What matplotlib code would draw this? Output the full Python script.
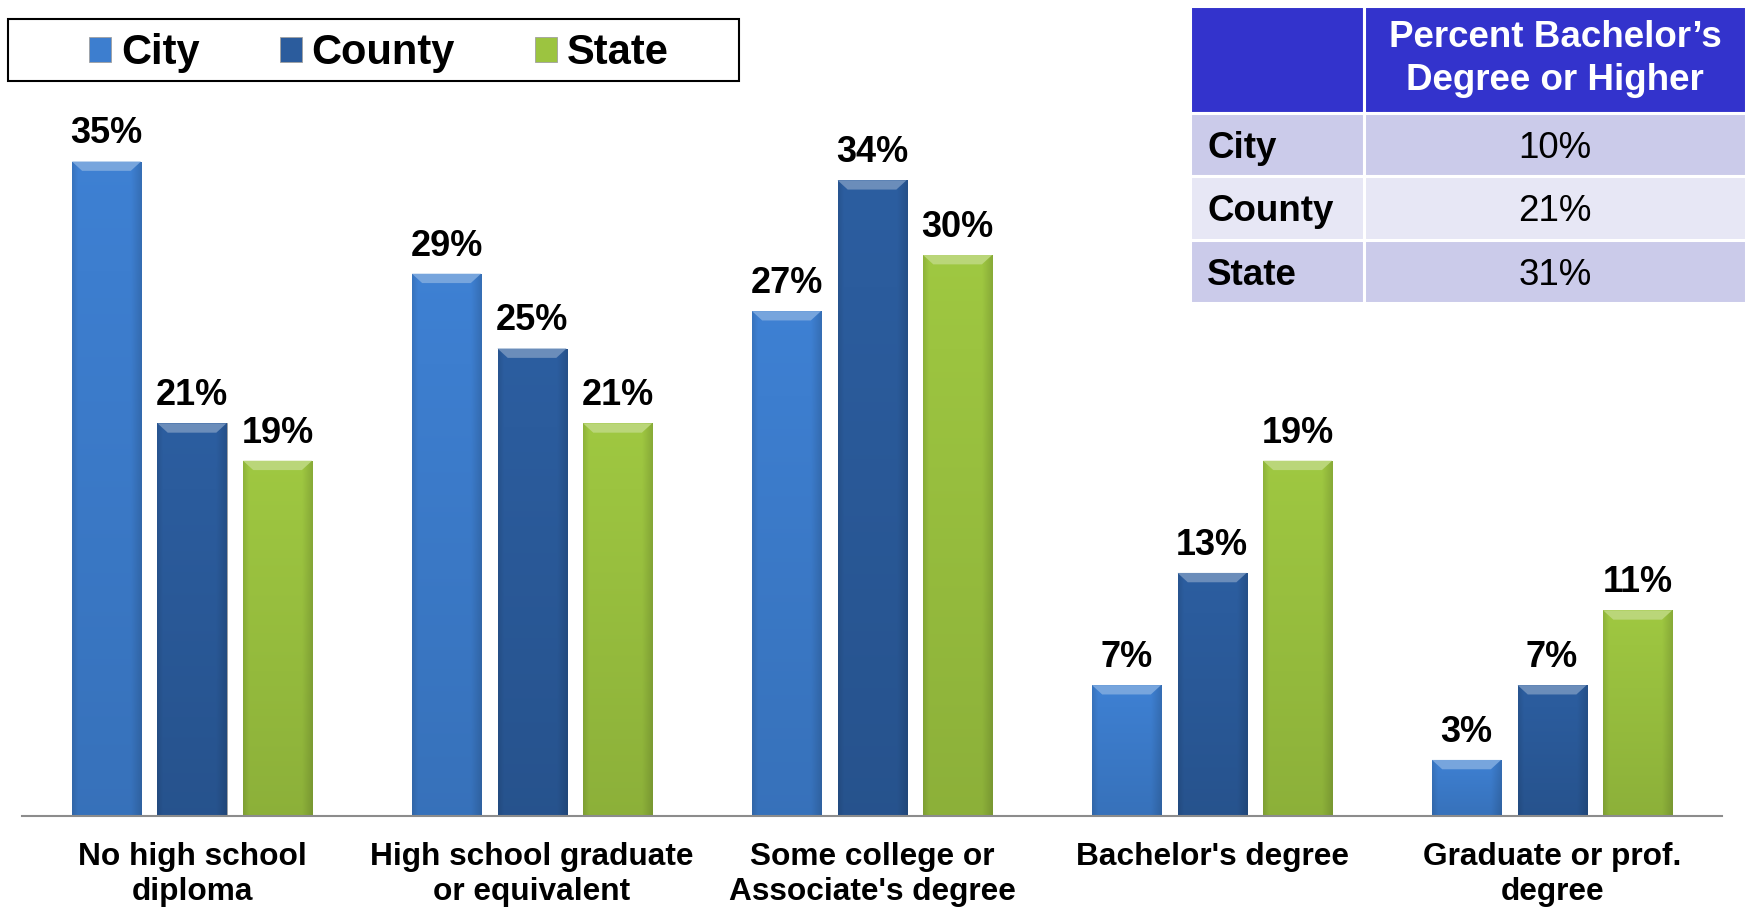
import matplotlib
matplotlib.use("Agg")
import matplotlib.pyplot as plt
import numpy as np
from matplotlib.colors import to_rgb
from matplotlib.patches import Rectangle, Polygon

plt.rcParams['font.family'] = ['Liberation Sans', 'DejaVu Sans']

# education levels and shares (%) for each area
categories = ["No high school\ndiploma", "High school graduate\nor equivalent",
              "Some college or\nAssociate's degree", "Bachelor's degree",
              "Graduate or prof.\ndegree"]
series_names = ["City", "County", "State"]
city = [35, 29, 27, 7, 3]
county = [21, 25, 34, 13, 7]
state = [19, 21, 30, 19, 11]
series_colors = ["#3d7ecf", "#2b5c9d", "#9cc440"]

# summary table
table_rows = ["City", "County", "State"]
table_header = "Percent Bachelor\u2019s\nDegree or Higher"
bachelor_plus = [10, 21, 31]


def shade_bar(ax, rect, color):
    # vertical/horizontal gradient plus a light bevel on top
    x, y = rect.get_xy()
    w, h = rect.get_width(), rect.get_height()
    base = np.array(to_rgb(color))
    xs = np.linspace(0, 1, 60)
    ys = np.linspace(0, 1, 200)
    horiz = 1 - 0.14 * np.clip((xs - 0.85) / 0.15, 0, 1) - 0.10 * np.clip((0.08 - xs) / 0.08, 0, 1)
    vert = 0.90 + 0.12 * ys
    img = np.clip(base[None, None, :] * vert[:, None, None] * horiz[None, :, None], 0, 1)
    im = ax.imshow(img, extent=(x, x + w, y, y + h), origin='lower', aspect='auto',
                   interpolation='bilinear', zorder=2)
    im.set_clip_path(rect)
    dy = 0.5
    dx = 0.03
    light = base + (1 - base) * 0.3
    ax.add_patch(Polygon([(x, y + h), (x + w, y + h), (x + w - dx, y + h - dy), (x + dx, y + h - dy)],
                         closed=True, facecolor=light, edgecolor='none', zorder=3))


fig = plt.figure(figsize=(17.46, 9.07), dpi=100)
ax = fig.add_axes([0.0126, 0.1003, 0.9737, 0.8247])

x = np.arange(len(categories))
width = 0.203
step = 0.2516
containers = []
for i, (name, vals, col) in enumerate(zip(series_names, [city, county, state], series_colors)):
    bars = ax.bar(x + (i - 1) * step, vals, width, color=col, label=name,
                  edgecolor='#a0a0a0', linewidth=0.6, zorder=2)
    containers.append(bars)
    for rect, v in zip(bars, vals):
        shade_bar(ax, rect, col)
        ax.annotate(f"{v}%", (rect.get_x() + rect.get_width() / 2, v),
                    xytext=(0, 13), textcoords='offset points', ha='center', va='baseline',
                    fontsize=26, fontweight='bold', color='black', zorder=4)

ax.set_xlim(-0.5, 4.5)
ax.set_ylim(0, 40)
ax.set_xticks(x)
ax.set_xticklabels(categories, fontsize=22.8, fontweight='bold', linespacing=1.18)
ax.tick_params(axis='x', length=0, pad=19)
ax.set_yticks([])
for s in ['left', 'right', 'top']:
    ax.spines[s].set_visible(False)
ax.spines['bottom'].set_color('#8c8c8c')
ax.spines['bottom'].set_linewidth(1.5)

# legend with a plain black frame
fig.patches.append(Rectangle((0.00458, 0.9107), 0.4187, 0.0684, transform=fig.transFigure,
                             facecolor='white', edgecolor='black', linewidth=1.5, zorder=0))
fig.legend([c.patches[0] for c in containers], series_names, loc='center',
           bbox_to_anchor=(0.217, 0.9415), ncol=3, frameon=False,
           prop={'size': 30, 'weight': 'bold'}, handlelength=0.53, handleheight=0.53,
           handletextpad=0.24, columnspacing=1.92)

# summary table at top right
ax_t = fig.add_axes([1190 / 1746, 1 - 303 / 907, 556 / 1746, 297.4 / 907])
ax_t.axis('off')
cell_text = [["", table_header]] + [[r, f"{v}%"] for r, v in zip(table_rows, bachelor_plus)]
band = ["#cbcbea", "#e7e7f5", "#cbcbea"]
cell_colors = [["#3333cc", "#3333cc"]] + [[b, b] for b in band]
tbl = ax_t.table(cellText=cell_text, cellColours=cell_colors, colWidths=[174, 382],
                 cellLoc='center', bbox=[0, 0, 1, 1])
tbl.auto_set_font_size(False)
row_h = [0.36, 0.213, 0.215, 0.212]
for (r, c), cell in tbl.get_celld().items():
    cell.set_edgecolor('white')
    cell.set_linewidth(2.2)
    cell.set_height(row_h[r])
    txt = cell.get_text()
    txt.set_fontsize(26.5)
    if r == 0:
        txt.set_color('white')
        txt.set_fontweight('bold')
        txt.set_linespacing(1.3)
    else:
        txt.set_verticalalignment('center_baseline')
        if c == 0:
            txt.set_fontweight('bold')
            txt.set_horizontalalignment('left')
            cell._loc = 'left'
            cell.PAD = 0.1

fig.savefig("out.png", dpi=100)
